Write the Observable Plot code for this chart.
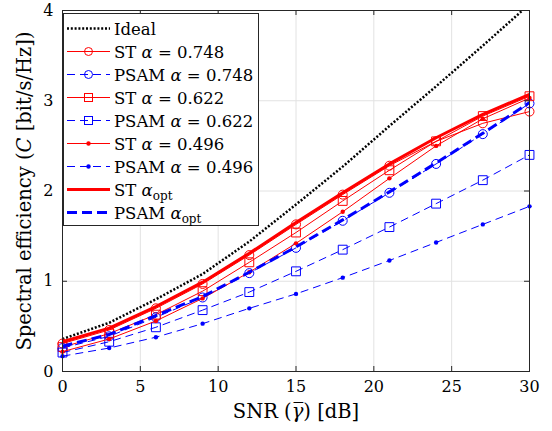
<!DOCTYPE html>
<html><head><meta charset="utf-8">
<script src="https://cdn.jsdelivr.net/npm/d3@7"></script>
<script src="https://cdn.jsdelivr.net/npm/@observablehq/plot@0.6"></script>
<style>body{margin:0;background:#fff} svg{display:block}</style>
</head><body><div id="chart"></div>
<script>
// SNR values (dB)
const snr = [0, 3, 6, 9, 12, 15, 18, 21, 24, 27, 30];
// Spectral efficiency series (bit/s/Hz)
const ideal      = [0.36, 0.54, 0.80, 1.08, 1.44, 1.85, 2.27, 2.72, 3.16, 3.61, 4.07];
const st748      = [0.31, 0.46, 0.70, 0.97, 1.29, 1.63, 1.96, 2.28, 2.55, 2.75, 2.88];
const psam748    = [0.26, 0.39, 0.60, 0.82, 1.09, 1.37, 1.67, 1.98, 2.30, 2.63, 2.97];
const st622      = [0.27, 0.42, 0.63, 0.89, 1.21, 1.54, 1.89, 2.23, 2.55, 2.83, 3.05];
const psam622    = [0.21, 0.33, 0.49, 0.68, 0.88, 1.11, 1.35, 1.60, 1.86, 2.12, 2.40];
const st496      = [0.22, 0.36, 0.56, 0.81, 1.10, 1.42, 1.77, 2.14, 2.50, 2.80, 3.03];
const psam496    = [0.17, 0.26, 0.38, 0.53, 0.70, 0.86, 1.04, 1.23, 1.43, 1.63, 1.83];
const stOpt      = [0.33, 0.48, 0.72, 0.99, 1.31, 1.65, 1.98, 2.30, 2.59, 2.85, 3.07];
const psamOpt    = [0.28, 0.41, 0.62, 0.83, 1.10, 1.38, 1.68, 1.99, 2.31, 2.64, 2.98];
// Axis ticks
const xTicks = [0, 5, 10, 15, 20, 25, 30];
const yTicks = [0, 1, 2, 3, 4];
// Legend labels: [prefix, alpha value or "opt"]
const legendNames = ["Ideal", "ST", "PSAM", "ST", "PSAM", "ST", "PSAM", "ST", "PSAM"];
const legendAlpha = [null, "0.748", "0.748", "0.622", "0.622", "0.496", "0.496", "opt", "opt"];

const RED = "#ff0000", BLUE = "#0000ff";
const series = [
  {v: ideal,   stroke: "#000", sw: 2.5, dash: "2,1.8", marker: null},
  {v: st748,   stroke: RED,  sw: 1,   dash: null,   marker: "circle"},
  {v: psam748, stroke: BLUE, sw: 1,   dash: "8,5",  marker: "circle"},
  {v: st622,   stroke: RED,  sw: 1,   dash: null,   marker: "square"},
  {v: psam622, stroke: BLUE, sw: 1,   dash: "8,5",  marker: "square"},
  {v: st496,   stroke: RED,  sw: 1,   dash: null,   marker: "dot"},
  {v: psam496, stroke: BLUE, sw: 1,   dash: "8,5",  marker: "dot"},
  {v: stOpt,   stroke: RED,  sw: 3,   dash: null,   marker: null},
  {v: psamOpt, stroke: BLUE, sw: 3,   dash: "10,5", marker: null}
];
const rows = v => snr.map((x, i) => ({x, y: v[i]}));

const FONT = "DejaVu Serif";
const FS = 16, LFS = 16.5, AFS = 19.5;
const AX = "#262626";
const marks = [
  Plot.gridX(xTicks, {stroke: "#e2e2e2", strokeOpacity: 1}),
  Plot.gridY(yTicks, {stroke: "#e2e2e2", strokeOpacity: 1})
];
for (const s of series) {
  marks.push(Plot.line(rows(s.v), {x: "x", y: "y", stroke: s.stroke, strokeWidth: s.sw,
    strokeDasharray: s.dash, strokeLinecap: "butt", clip: true}));
  if (s.marker === "circle") marks.push(Plot.dot(rows(s.v), {x: "x", y: "y", symbol: "circle", r: 4.5, stroke: s.stroke, fill: "none", strokeWidth: 1}));
  if (s.marker === "square") marks.push(Plot.dot(rows(s.v), {x: "x", y: "y", symbol: "square", r: 5, stroke: s.stroke, fill: "none", strokeWidth: 1}));
  if (s.marker === "dot") marks.push(Plot.dot(rows(s.v), {x: "x", y: "y", symbol: "circle", r: 2.2, fill: s.stroke, stroke: "none"}));
}
marks.push(
  Plot.ruleX(xTicks, {x: d => d, insetTop: 356, stroke: AX}),
  Plot.ruleX(xTicks, {x: d => d, insetBottom: 356, stroke: AX}),
  Plot.ruleY(yTicks, {y: d => d, insetRight: 462, stroke: AX}),
  Plot.ruleY(yTicks, {y: d => d, insetLeft: 462, stroke: AX}),
  Plot.frame({stroke: AX, strokeWidth: 1}),
  Plot.axisX({ticks: xTicks, tickFormat: d => String(d), tickSize: 0, tickPadding: 9, label: null, fontSize: FS}),
  Plot.axisY({ticks: yTicks, tickFormat: d => String(d), tickSize: 0, tickPadding: 9, label: null, fontSize: FS})
);

const chart = Plot.plot({
  width: 552, height: 431,
  marginLeft: 62, marginRight: 23, marginTop: 10, marginBottom: 60,
  x: {domain: [0, 30]},
  y: {domain: [0, 4]},
  style: {fontFamily: FONT, fontSize: FS + "px", background: "#fff", color: "#000"},
  marks
});
document.getElementById("chart").append(chart);

const svg = d3.select(chart);
svg.selectAll("text").style("font-family", FONT);
// Axis labels
const xl = svg.append("text").attr("x", 296).attr("y", 418).attr("text-anchor", "middle")
  .style("font-family", FONT).attr("font-size", AFS).attr("fill", "#000");
xl.append("tspan").text("SNR (");
xl.append("tspan").attr("font-style", "italic").text("γ\u0305");
xl.append("tspan").text(") [dB]");
const yl = svg.append("text").attr("transform", "translate(31,191) rotate(-90)").attr("text-anchor", "middle")
  .style("font-family", FONT).attr("font-size", AFS).attr("fill", "#000");
yl.append("tspan").text("Spectral efficiency (");
yl.append("tspan").attr("font-style", "italic").text("C");
yl.append("tspan").text(" [bit/s/Hz])");

// Legend
const lg = svg.append("g").style("font-family", FONT).attr("font-size", LFS).attr("text-anchor", "start");
lg.append("rect").attr("x", 63.5).attr("y", 13.5).attr("width", 195).attr("height", 212)
  .attr("fill", "#fff").attr("stroke", AX).attr("stroke-width", 1);
series.forEach((s, i) => {
  const cy = 28.5 + i * 23;
  lg.append("line").attr("x1", 67).attr("x2", 110).attr("y1", cy).attr("y2", cy)
    .attr("stroke", s.stroke).attr("stroke-width", s.sw).attr("stroke-dasharray", s.dash);
  if (s.marker === "circle") lg.append("circle").attr("cx", 88.5).attr("cy", cy).attr("r", 4).attr("fill", "none").attr("stroke", s.stroke);
  if (s.marker === "square") lg.append("rect").attr("x", 84.5).attr("y", cy - 4).attr("width", 8).attr("height", 8).attr("fill", "none").attr("stroke", s.stroke);
  if (s.marker === "dot") lg.append("circle").attr("cx", 88.5).attr("cy", cy).attr("r", 2.2).attr("fill", s.stroke);
  const t = lg.append("text").attr("x", 114).attr("y", cy + 6).attr("fill", "#000").attr("text-anchor", "start");
  t.append("tspan").text(legendNames[i]);
  const a = legendAlpha[i];
  if (a === "opt") {
    t.append("tspan").text(" ");
    t.append("tspan").attr("font-style", "italic").text("α");
    t.append("tspan").attr("font-size", 12).attr("dy", 4).text("opt");
  } else if (a) {
    t.append("tspan").text(" ");
    t.append("tspan").attr("font-style", "italic").text("α");
    t.append("tspan").text(" = " + a);
  }
});
</script>
</body></html>
